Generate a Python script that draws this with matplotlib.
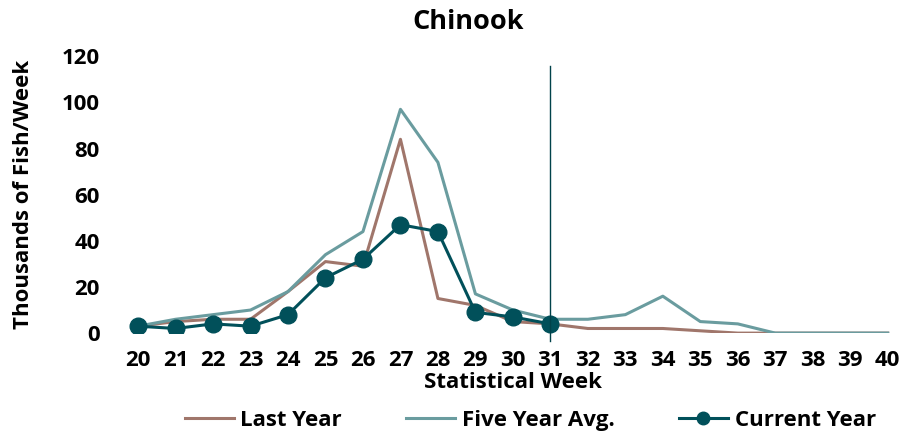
import matplotlib.pyplot as plt

weeks = list(range(20, 41))
last_year = [3, 5, 6, 6, 18, 31, 29, 84, 15, 12, 5, 4, 2, 2, 2, 1, 0, 0, 0, 0, 0]
five_year = [3, 6, 8, 10, 18, 34, 44, 97, 74, 17, 10, 6, 6, 8, 16, 5, 4, 0, 0, 0, 0]
current_weeks = list(range(20, 32))
current_year = [3, 2, 4, 3, 8, 24, 32, 47, 44, 9, 7, 4]
cutoff_week = 31

plt.rcParams['font.family'] = ['Open Sans', 'DejaVu Sans']
plt.rcParams['font.weight'] = 'bold'

fig = plt.figure(figsize=(9.11, 4.36), dpi=100)
ax = fig.add_axes([0.131, 0.236, 0.864, 0.635])

ax.plot(weeks, last_year, color='#a0766b', lw=2.2, label='Last Year')
ax.plot(weeks, five_year, color='#6a9c9f', lw=2.2, label='Five Year Avg.')
ax.plot(current_weeks, current_year, color='#01505a', lw=2.2, marker='o', ms=12,
        label='Current Year')
ax.axvline(cutoff_week, ymin=-0.028, ymax=0.964, color='#01424a', lw=1, clip_on=False)

ax.set_xlim(19.5, 40.5)
ax.set_ylim(0, 120)
ax.set_xticks(weeks)
ax.set_yticks(range(0, 121, 20))
ax.tick_params(axis='x', length=0, labelsize=16, pad=12)
ax.tick_params(axis='y', length=0, labelsize=16, pad=14)
for lbl in ax.get_xticklabels() + ax.get_yticklabels():
    lbl.set_fontweight('bold')
for s in ax.spines.values():
    s.set_visible(False)

fig.text(0.514, 0.95, 'Chinook', fontsize=19.5, fontweight='bold', ha='center', va='center')
ax.set_xlabel('Statistical Week', fontsize=16, fontweight='bold', labelpad=1)
ax.set_ylabel('Thousands of Fish/Week', fontsize=16, fontweight='bold')
ax.yaxis.set_label_coords(-0.108, 0.5)

fig.legend(*ax.get_legend_handles_labels(), loc='center', bbox_to_anchor=(0.582, 0.035),
           ncol=3, frameon=False, handlelength=2.2, handletextpad=0.3, columnspacing=2.9,
           prop={'weight': 'bold', 'size': 16}, markerscale=0.75)

fig.savefig('out.png', dpi=100)
